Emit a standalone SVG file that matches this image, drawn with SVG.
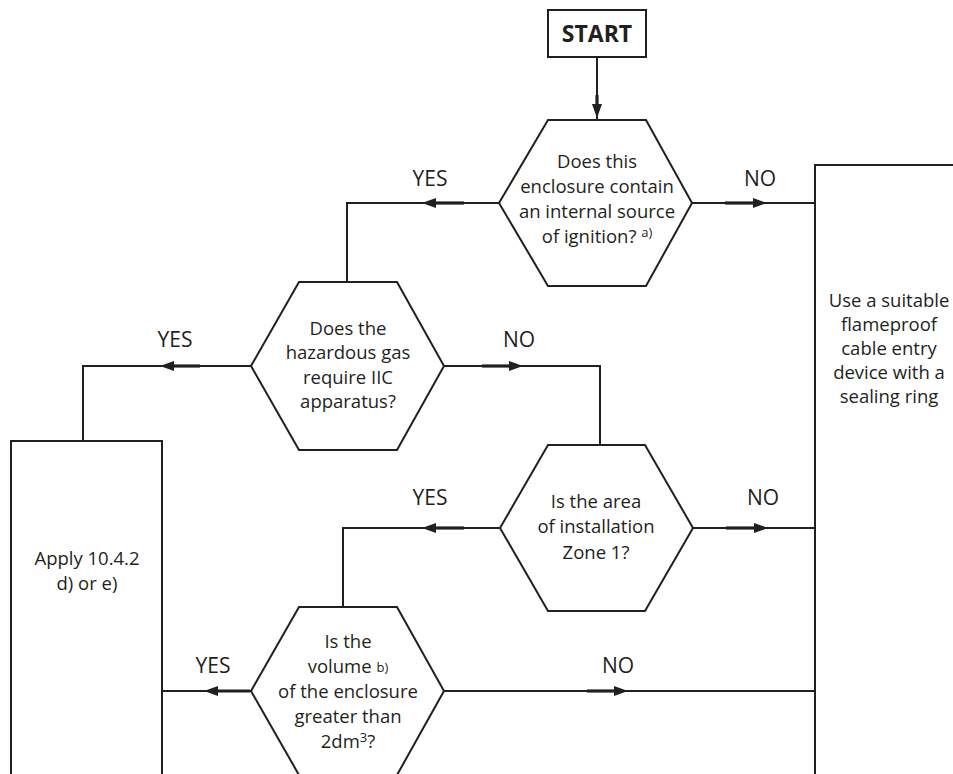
<svg xmlns="http://www.w3.org/2000/svg" width="953" height="774" viewBox="0 0 953 774">
<style>
.shape{fill:#fff;stroke:#231f20;stroke-width:2}
.line{fill:none;stroke:#231f20;stroke-width:2}
.shaft{fill:none;stroke:#231f20;stroke-width:3.2;marker-end:url(#ah)}
text{font-family:"Open Sans","Liberation Sans",sans-serif;fill:#231f20;text-anchor:middle}
.t{font-size:18.5px}
.lbl{font-size:21px}
.start{font-size:23px;font-weight:bold}
.sup{font-size:13px}
</style>
<defs>
<marker id="ah" markerUnits="userSpaceOnUse" markerWidth="16" markerHeight="12" refX="4" refY="5" orient="auto">
<path d="M0,0 L14,5 L0,10 z" fill="#231f20"/>
</marker>
</defs>
<rect width="953" height="774" fill="#fff"/>
<g id="connectors">
<path class="line" d="M597,57 V120"/>
<path class="shaft" d="M597,95 V108"/>
<path class="line" d="M692,203 H815"/>
<path class="shaft" d="M725,203 H757"/>
<path class="line" d="M499,203 H347 V282"/>
<path class="shaft" d="M464,203 H432"/>
<path class="line" d="M251,366 H83 V441"/>
<path class="shaft" d="M200,366 H170"/>
<path class="line" d="M444,366 H600 V445"/>
<path class="shaft" d="M482,366 H513"/>
<path class="line" d="M693,528 H815"/>
<path class="shaft" d="M726,528 H758"/>
<path class="line" d="M500,528 H343 V607"/>
<path class="shaft" d="M464,528 H432"/>
<path class="line" d="M251,691 H162"/>
<path class="shaft" d="M250,691 H214"/>
<path class="line" d="M444,691 H815"/>
<path class="shaft" d="M587,691 H618"/>
</g>
<g id="start">
<rect class="shape" x="548" y="10" width="98" height="47"/>
<text class="start" x="597" y="42">START</text>
</g>
<g id="q1">
<polygon class="shape" points="548,120 646,120 692,203 646,286 548,286 499,203"/>
<text class="t" x="597" y="168">Does this</text>
<text class="t" x="597" y="193">enclosure contain</text>
<text class="t" x="597" y="218">an internal source</text>
<text class="t" x="597" y="243">of ignition? <tspan class="sup" dy="-6">a)</tspan></text>
</g>
<g id="q2">
<polygon class="shape" points="299,282 397,282 444,366 397,450 299,450 251,366"/>
<text class="t" x="348" y="335">Does the</text>
<text class="t" x="348" y="359">hazardous gas</text>
<text class="t" x="348" y="384">require IIC</text>
<text class="t" x="348" y="408">apparatus?</text>
</g>
<g id="q3">
<polygon class="shape" points="548,445 645,445 693,528 645,611 548,611 500,528"/>
<text class="t" x="596" y="508">Is the area</text>
<text class="t" x="596" y="533">of installation</text>
<text class="t" x="596" y="559">Zone 1?</text>
</g>
<g id="q4">
<polygon class="shape" points="299,607 397,607 444,691 397,775 299,775 251,691"/>
<text class="t" x="348" y="648">Is the</text>
<text class="t" x="348" y="673">volume <tspan class="sup" dy="-1">b)</tspan></text>
<text class="t" x="348" y="698">of the enclosure</text>
<text class="t" x="348" y="723">greater than</text>
<text class="t" x="348" y="748">2dm<tspan class="sup" dy="-6">3</tspan><tspan dy="6">?</tspan></text>
</g>
<g id="apply">
<rect class="shape" x="11" y="441" width="151" height="400"/>
<text class="t" x="87" y="565">Apply 10.4.2</text>
<text class="t" x="87" y="590">d) or e)</text>
</g>
<g id="flameproof">
<rect class="shape" x="815" y="165" width="200" height="700"/>
<text class="t" x="889" y="307">Use a suitable</text>
<text class="t" x="889" y="331">flameproof</text>
<text class="t" x="889" y="355">cable entry</text>
<text class="t" x="889" y="379">device with a</text>
<text class="t" x="889" y="403">sealing ring</text>
</g>
<g id="labels">
<text class="lbl" x="430" y="186">YES</text>
<text class="lbl" x="760" y="186">NO</text>
<text class="lbl" x="175" y="347">YES</text>
<text class="lbl" x="519" y="347">NO</text>
<text class="lbl" x="430" y="505">YES</text>
<text class="lbl" x="763" y="505">NO</text>
<text class="lbl" x="213" y="673">YES</text>
<text class="lbl" x="618" y="673">NO</text>
</g>
</svg>
